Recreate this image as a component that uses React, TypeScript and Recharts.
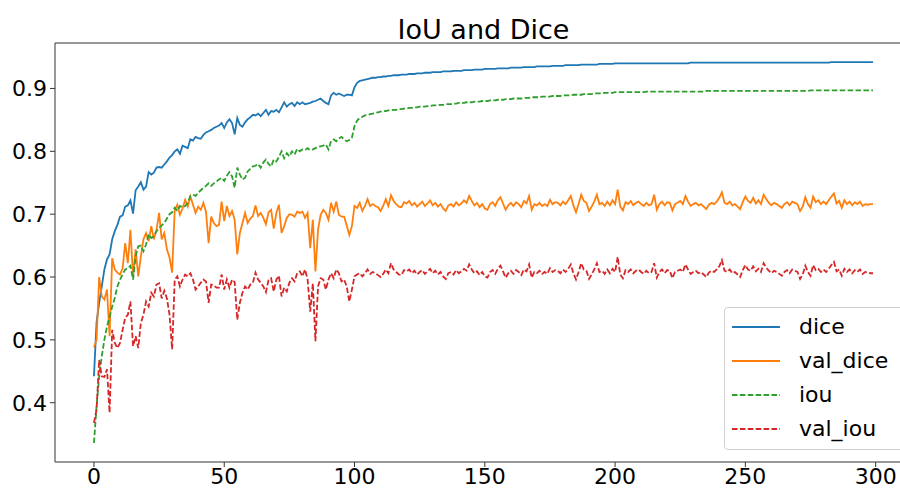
import React from 'react';
import { LineChart, Line, XAxis, YAxis, ReferenceLine } from 'recharts';

// per-epoch values (epoch = index)
const dice = [
  .442,.528,.559,.585,.612,.628,.636,.660,.673,.683,
  .696,.698,.712,.714,.722,.701,.738,.744,.751,.739,
  .744,.767,.763,.766,.774,.775,.774,.779,.784,.790,
  .794,.800,.803,.796,.809,.807,.805,.819,.817,.823,
  .821,.820,.826,.830,.832,.834,.837,.839,.841,.845,
  .837,.846,.851,.845,.827,.853,.842,.839,.846,.851,
  .854,.858,.857,.860,.856,.861,.866,.858,.864,.863,
  .866,.862,.870,.878,.871,.875,.877,.872,.878,.875,
  .878,.875,.876,.877,.879,.880,.882,.884,.880,.877,
  .875,.889,.893,.890,.892,.890,.888,.890,.890,.889,
  .902,.909,.912,.913,.914,.915,.916,.917,.917,.918,
  .918,.919,.919,.920,.920,.921,.921,.921,.922,.922,
  .922,.923,.923,.923,.924,.924,.924,.925,.925,.925,
  .926,.926,.926,.926,.927,.927,.927,.927,.928,.928,
  .928,.928,.929,.929,.929,.929,.930,.930,.930,.930,
  .931,.931,.931,.931,.931,.932,.932,.932,.932,.932,
  .933,.933,.933,.933,.933,.934,.934,.934,.934,.934,
  .935,.935,.935,.935,.935,.935,.936,.936,.936,.936,
  .936,.937,.937,.937,.937,.937,.937,.938,.938,.938,
  .938,.938,.938,.938,.939,.939,.939,.939,.939,.939,
  .940,.940,.940,.940,.940,.940,.940,.940,.940,.940,
  .940,.940,.940,.940,.940,.940,.940,.940,.940,.940,
  .940,.940,.940,.940,.940,.940,.940,.940,.940,.941,
  .941,.941,.941,.941,.941,.941,.941,.941,.941,.941,
  .941,.941,.941,.941,.941,.941,.941,.941,.941,.941,
  .941,.941,.941,.941,.941,.941,.941,.941,.941,.941,
  .941,.941,.941,.941,.941,.941,.941,.941,.941,.941,
  .941,.941,.941,.941,.941,.941,.941,.941,.941,.941,
  .941,.941,.941,.942,.942,.942,.942,.942,.942,.942,
  .942,.942,.942,.942,.942,.942,.942,.942,.942,.942,
];

const valDice = [
  .488,.500,.600,.569,.564,.580,.506,.630,.612,.607,
  .604,.614,.654,.622,.675,.601,.644,.601,.633,.660,
  .670,.657,.681,.660,.675,.702,.660,.670,.644,.631,
  .607,.707,.715,.699,.709,.723,.712,.728,.715,.702,
  .712,.707,.718,.704,.654,.696,.686,.681,.683,.720,
  .689,.713,.697,.705,.691,.636,.670,.686,.702,.686,
  .693,.697,.714,.697,.702,.694,.684,.703,.707,.677,
  .702,.715,.670,.681,.694,.700,.699,.696,.704,.702,
  .704,.694,.702,.646,.691,.609,.675,.699,.707,.702,
  .691,.718,.704,.720,.699,.696,.696,.682,.667,.681,
  .713,.710,.718,.705,.713,.724,.713,.716,.713,.711,
  .705,.713,.724,.713,.730,.721,.716,.712,.711,.719,
  .717,.721,.714,.718,.712,.716,.720,.713,.717,.722,
  .714,.718,.712,.716,.709,.705,.714,.716,.712,.719,
  .714,.717,.722,.718,.729,.721,.714,.718,.711,.716,
  .709,.707,.716,.719,.713,.722,.727,.717,.707,.714,
  .718,.713,.719,.716,.711,.721,.717,.729,.707,.716,
  .714,.718,.713,.716,.713,.723,.716,.719,.718,.714,
  .720,.716,.722,.729,.714,.703,.716,.731,.721,.718,
  .705,.712,.720,.731,.716,.718,.713,.720,.714,.722,
  .716,.739,.712,.706,.719,.716,.721,.714,.718,.720,
  .716,.713,.718,.714,.716,.731,.707,.716,.720,.714,
  .719,.718,.706,.716,.718,.721,.716,.729,.720,.713,
  .716,.718,.714,.716,.712,.708,.715,.718,.716,.720,
  .726,.735,.718,.716,.720,.714,.716,.712,.708,.719,
  .728,.721,.718,.726,.717,.722,.716,.731,.724,.718,
  .714,.718,.716,.713,.710,.716,.719,.714,.720,.718,
  .716,.705,.712,.727,.716,.710,.728,.719,.722,.716,
  .720,.716,.722,.728,.733,.717,.721,.710,.722,.716,
  .720,.714,.719,.716,.720,.713,.716,.715,.716,.716,
];

const iou = [
  .336,.394,.442,.474,.500,.521,.537,.553,.567,.585,
  .596,.604,.612,.614,.618,.596,.633,.649,.650,.641,
  .652,.668,.662,.665,.673,.678,.682,.686,.693,.700,
  .703,.710,.705,.713,.711,.713,.718,.729,.731,.729,
  .734,.738,.742,.745,.749,.745,.749,.752,.755,.758,
  .753,.761,.767,.760,.742,.774,.763,.755,.758,.768,
  .772,.776,.777,.780,.774,.782,.787,.780,.776,.787,
  .784,.791,.800,.789,.797,.792,.800,.795,.804,.800,
  .803,.802,.805,.802,.803,.805,.807,.808,.809,.811,
  .803,.816,.819,.816,.820,.823,.819,.816,.818,.822,
  .840,.849,.853,.855,.857,.858,.859,.860,.861,.862,
  .863,.864,.864,.865,.865,.866,.866,.867,.867,.868,
  .868,.869,.869,.870,.870,.871,.871,.871,.872,.872,
  .873,.873,.873,.874,.874,.875,.875,.875,.876,.876,
  .877,.877,.877,.878,.878,.878,.879,.879,.879,.880,
  .880,.880,.881,.881,.881,.882,.882,.882,.883,.883,
  .883,.884,.884,.884,.884,.885,.885,.885,.886,.886,
  .886,.886,.887,.887,.887,.887,.888,.888,.888,.888,
  .889,.889,.889,.889,.890,.890,.890,.890,.891,.891,
  .891,.891,.892,.892,.892,.892,.893,.893,.893,.893,
  .894,.894,.894,.894,.894,.894,.894,.894,.894,.894,
  .894,.894,.895,.895,.895,.895,.895,.895,.895,.895,
  .895,.895,.895,.895,.895,.895,.895,.895,.895,.895,
  .895,.895,.895,.895,.895,.896,.896,.896,.896,.896,
  .896,.896,.896,.896,.896,.896,.896,.896,.896,.896,
  .896,.896,.896,.896,.896,.896,.896,.896,.896,.896,
  .896,.896,.896,.896,.896,.896,.896,.896,.896,.896,
  .896,.896,.896,.896,.896,.897,.897,.897,.897,.897,
  .897,.897,.897,.897,.897,.897,.897,.897,.897,.897,
  .897,.897,.897,.897,.897,.897,.897,.897,.897,.897,
];

const valIou = [
  .368,.389,.468,.442,.441,.453,.384,.516,.495,.487,
  .495,.516,.535,.540,.561,.490,.506,.487,.527,.540,
  .561,.553,.575,.569,.588,.590,.566,.578,.566,.540,
  .485,.596,.601,.585,.596,.604,.601,.606,.596,.580,
  .585,.591,.596,.593,.559,.588,.587,.583,.583,.604,
  .580,.596,.583,.596,.592,.532,.559,.575,.585,.580,
  .588,.591,.607,.596,.591,.585,.576,.595,.598,.577,
  .596,.602,.569,.583,.577,.591,.598,.593,.606,.609,
  .601,.612,.596,.545,.590,.498,.585,.598,.596,.580,
  .596,.606,.598,.612,.606,.593,.596,.585,.561,.580,
  .601,.604,.606,.601,.606,.612,.605,.608,.606,.603,
  .600,.605,.612,.606,.622,.612,.608,.604,.603,.611,
  .609,.612,.606,.610,.604,.608,.611,.605,.609,.613,
  .606,.610,.604,.608,.601,.597,.606,.608,.604,.611,
  .606,.609,.613,.610,.620,.612,.606,.609,.603,.608,
  .601,.599,.608,.611,.605,.613,.618,.609,.599,.606,
  .610,.605,.611,.608,.603,.612,.609,.620,.599,.608,
  .606,.610,.605,.608,.605,.614,.608,.611,.610,.606,
  .612,.608,.613,.620,.606,.596,.608,.622,.612,.610,
  .597,.604,.612,.622,.608,.610,.605,.612,.606,.613,
  .608,.632,.604,.598,.611,.608,.612,.606,.610,.612,
  .608,.605,.610,.606,.608,.622,.599,.608,.612,.606,
  .611,.610,.598,.608,.610,.612,.608,.620,.612,.605,
  .608,.610,.606,.608,.604,.600,.607,.610,.608,.612,
  .617,.627,.610,.608,.612,.606,.608,.604,.600,.611,
  .619,.612,.610,.617,.609,.613,.608,.622,.615,.610,
  .606,.610,.608,.605,.602,.608,.611,.606,.612,.610,
  .608,.597,.604,.618,.608,.602,.619,.611,.613,.608,
  .612,.608,.613,.619,.624,.609,.612,.602,.613,.608,
  .612,.606,.611,.608,.612,.605,.608,.607,.606,.606,
];

const xTicks = [0, 50, 100, 150, 200, 250, 300];
const yTicks = [0.4, 0.5, 0.6, 0.7, 0.8, 0.9];

const series = [
  { key: 'dice', color: '#1f77b4', dash: undefined },
  { key: 'val_dice', color: '#ff7f0e', dash: undefined },
  { key: 'iou', color: '#2ca02c', dash: '5.5 2.4' },
  { key: 'val_iou', color: '#d62728', dash: '5.5 2.4' },
];

const data = dice.map((d, i) => ({
  epoch: i,
  dice: d,
  val_dice: valDice[i],
  iou: iou[i],
  val_iou: valIou[i],
}));

const FONT = '"DejaVu Sans", sans-serif';
const Y_MIN = 0.3057;
const Y_MAX = 0.9723;

export default function App() {
  return (
    <div style={{ position: 'absolute', left: 0, top: 0, width: 900, height: 489, overflow: 'hidden', background: '#fff', fontFamily: FONT }}>
      <div style={{ position: 'absolute', left: 55, width: 857, top: 14, textAlign: 'center', fontSize: 27, color: '#000', lineHeight: '32px' }}>
        IoU and Dice
      </div>
      <LineChart width={920} height={489} data={data} margin={{ top: 43, right: 8, bottom: 0, left: 0 }}>
        <XAxis
          dataKey="epoch"
          type="number"
          domain={[-14.95, 313.95]}
          ticks={xTicks}
          allowDataOverflow
          height={27}
          tickSize={5}
          tickMargin={1}
          tick={{ fontSize: 22, fill: '#000', fontFamily: FONT }}
          axisLine={{ stroke: '#333', strokeWidth: 1 }}
          tickLine={{ stroke: '#333' }}
        />
        <YAxis
          type="number"
          domain={[Y_MIN, Y_MAX]}
          ticks={yTicks}
          allowDataOverflow
          width={55}
          tickSize={5}
          tickMargin={3}
          tickFormatter={(v: number) => v.toFixed(1)}
          tick={{ fontSize: 22, fill: '#000', fontFamily: FONT }}
          axisLine={{ stroke: '#333', strokeWidth: 1 }}
          tickLine={{ stroke: '#333' }}
        />
        <ReferenceLine y={Y_MAX} stroke="#333" strokeWidth={1} />
        {series.map((s) => (
          <Line
            key={s.key}
            type="linear"
            dataKey={s.key}
            stroke={s.color}
            strokeWidth={1.8}
            strokeDasharray={s.dash}
            dot={false}
            activeDot={false}
            isAnimationActive={false}
          />
        ))}
      </LineChart>
      <div style={{ position: 'absolute', left: 724, top: 307, width: 180, height: 143, border: '1px solid #d0d0d0', borderRadius: 4, background: 'rgba(255,255,255,0.85)', boxSizing: 'border-box' }}>
        {series.map((s, i) => (
          <div key={s.key} style={{ position: 'absolute', left: 0, top: 4 + i * 34, height: 30, display: 'flex', alignItems: 'center' }}>
            <svg width={60} height={10} style={{ marginLeft: 7 }}>
              <line x1={0} y1={5} x2={48} y2={5} stroke={s.color} strokeWidth={1.8} strokeDasharray={s.dash} />
            </svg>
            <span style={{ marginLeft: 7, fontSize: 22, color: '#000', lineHeight: '30px' }}>{s.key}</span>
          </div>
        ))}
      </div>
    </div>
  );
}
